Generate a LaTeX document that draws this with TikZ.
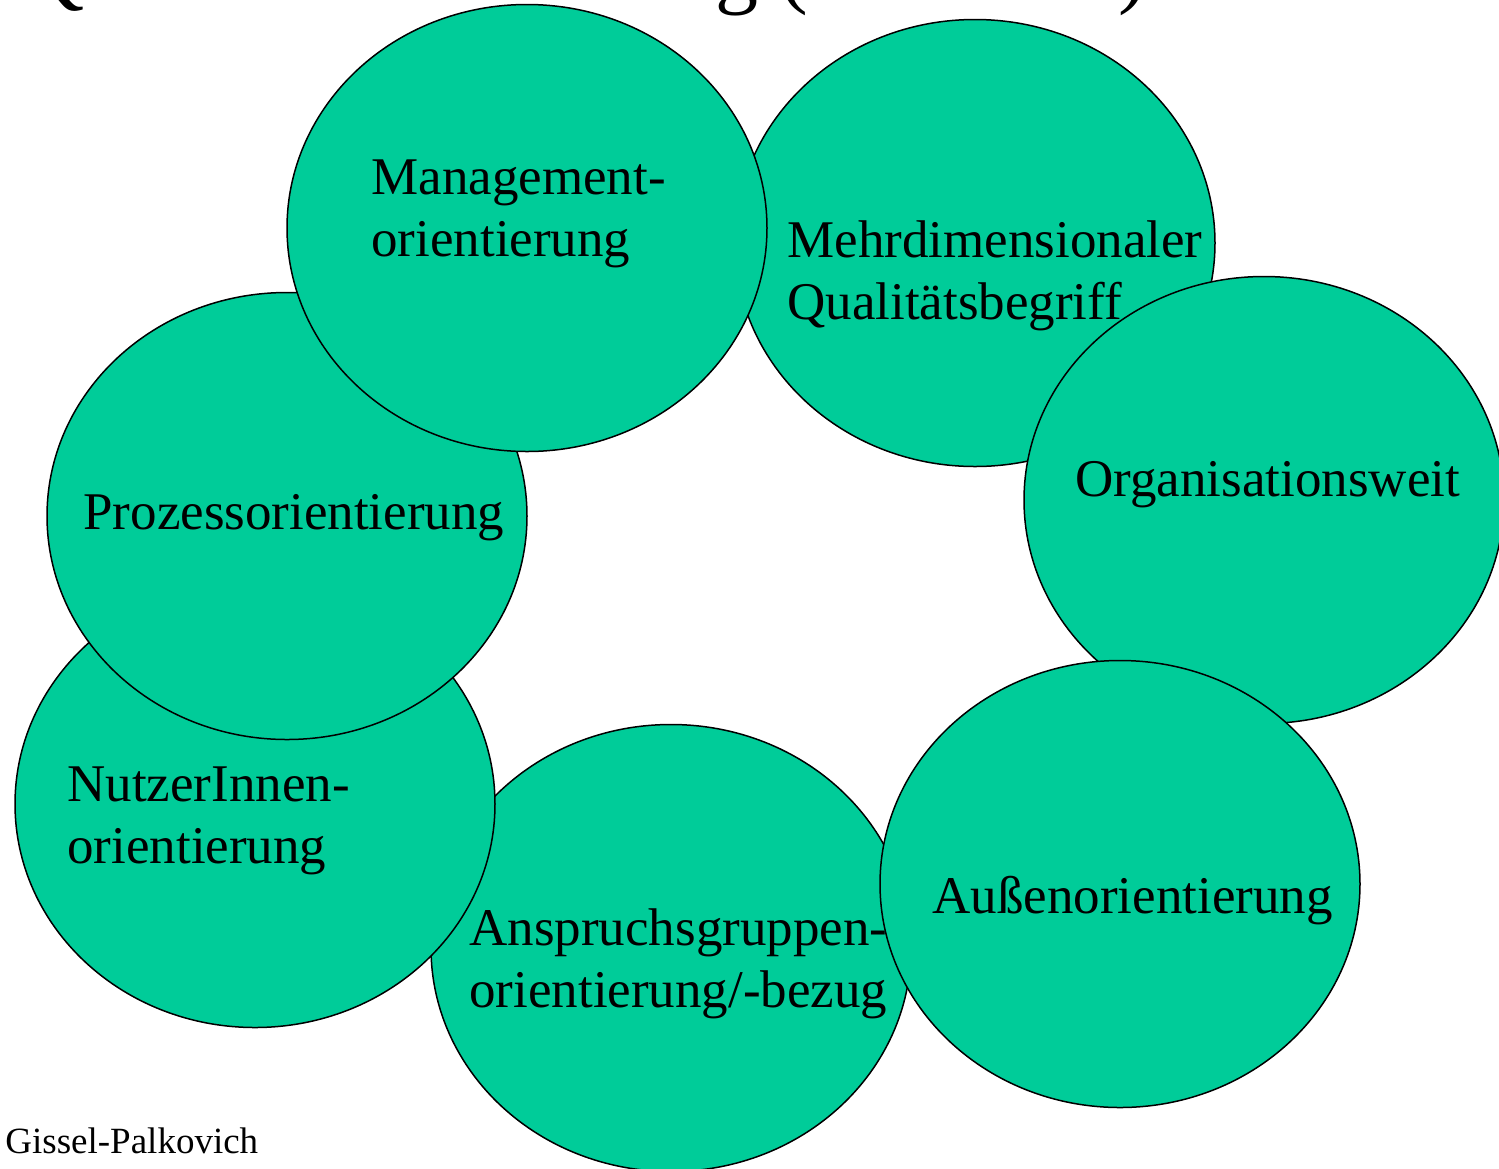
\documentclass[tikz,border=0pt]{standalone}
\usepackage{fontspec}
\setmainfont{Liberation Serif}
\usetikzlibrary{shapes.geometric}
\definecolor{bubble}{RGB}{0,204,153}
\begin{document}
\begin{tikzpicture}[x=0.5pt,y=-0.5pt,
  bubble/.style={ellipse, draw=black, line width=0.75pt, fill=bubble,
    minimum width=240pt, minimum height=223.5pt, inner sep=0pt},
  label/.style={anchor=base west, inner sep=0pt, align=left,
    font=\fontsize{26.5}{31}\selectfont}]
\useasboundingbox (0,0) rectangle (1499,1168);
% title, mostly above the page edge
\node[anchor=base west, inner sep=0pt, font=\fontsize{43}{50}\selectfont]
  (title) at (22,-3) {Qualitätsentwicklung (Kriterien)};
% bubbles, back to front
\node[bubble] (ansp) at (671,948) {};
\node[bubble] (nutz) at (255,804) {};
\node[bubble] (proz) at (287,516) {};
\node[bubble] (mehr) at (975,243) {};
\node[bubble] (mana) at (527,228) {};
\node[bubble] (orga) at (1264,500) {};
\node[bubble] (auss) at (1120,884) {};
% labels (base anchor sits on the last line)
\node[label] (tmana) at (371,256) {Management-\\orientierung};
\node[label] (tmehr) at (787,319) {Mehrdimensionaler\\Qualitätsbegriff};
\node[label] (torga) at (1075,496) {Organisationsweit};
\node[label] (tproz) at (83,529) {Prozessorientierung};
\node[label] (tnutz) at (67,863) {NutzerInnen-\\orientierung};
\node[label] (tansp) at (469,1007) {Anspruchsgruppen-\\orientierung/-bezug};
\node[label] (tauss) at (932,913) {Außenorientierung};
\node[anchor=base west, inner sep=0pt, font=\fontsize{18.5}{22}\selectfont]
  (author) at (5,1153) {Gissel-Palkovich};
\end{tikzpicture}
\end{document}
